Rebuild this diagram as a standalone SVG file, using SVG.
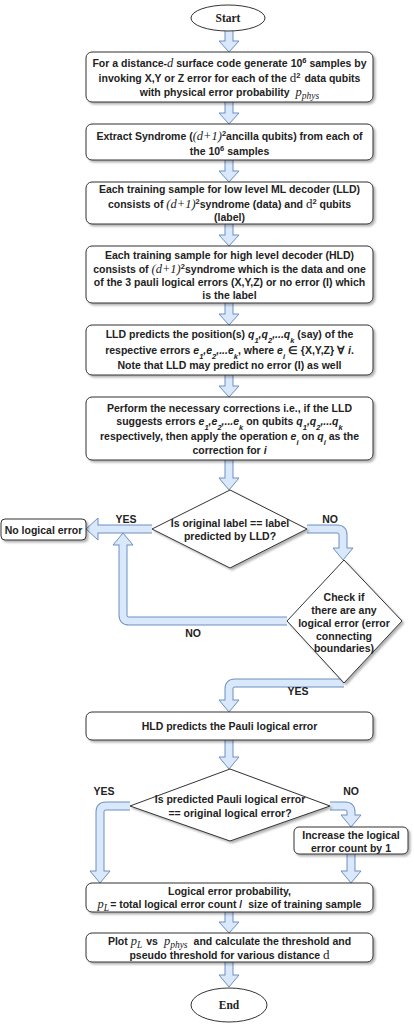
<svg xmlns="http://www.w3.org/2000/svg" width="414" height="1024" viewBox="0 0 414 1024">
<defs>
<filter id="sh" x="-10%" y="-10%" width="125%" height="140%">
<feDropShadow dx="2" dy="2" stdDeviation="1" flood-color="#000" flood-opacity="0.3"/>
</filter>
</defs>
<style>
.box{fill:#fff;stroke:#333;stroke-width:1;filter:url(#sh)}
.t{font-family:"Liberation Sans",Arial,sans-serif;font-weight:bold;font-size:10.5px;text-anchor:middle;fill:#222}
.lb{font-family:"Liberation Sans",Arial,sans-serif;font-weight:bold;font-size:10.5px;text-anchor:middle;fill:#222}
.se{font-family:"Liberation Serif","Times New Roman",serif;font-weight:bold;font-size:11.5px;text-anchor:middle;fill:#222}
.m{font-family:"Liberation Serif","Times New Roman",serif;font-style:italic;font-weight:normal;font-size:12.5px}
.mr{font-family:"Liberation Serif","Times New Roman",serif;font-weight:normal;font-size:13px}
.i{font-style:italic}
.sup{font-size:7.5px;baseline-shift:super}
.sub{font-size:7.5px;baseline-shift:sub}
.ms{font-family:"Liberation Serif","Times New Roman",serif;font-style:italic;font-weight:normal;font-size:9.5px;baseline-shift:-3px}
.so{fill:none;stroke:#6c8ebf;stroke-width:9;stroke-linejoin:round}
.si{fill:none;stroke:#dae8fc;stroke-width:7;stroke-linejoin:round}
.hd{fill:#dae8fc;stroke:#6c8ebf;stroke-width:1;stroke-linejoin:miter}
</style>
<g id="connectors">
<path class="so" d="M229,30V41"/><polygon class="hd" points="219,41 239,41 229,52"/><path class="si" d="M229,30V42"/>
<path class="so" d="M229,102V113"/><polygon class="hd" points="219,113 239,113 229,124"/><path class="si" d="M229,102V114"/>
<path class="so" d="M229,160V171"/><polygon class="hd" points="219,171 239,171 229,182"/><path class="si" d="M229,160V172"/>
<path class="so" d="M229,224V235"/><polygon class="hd" points="219,235 239,235 229,246"/><path class="si" d="M229,224V236"/>
<path class="so" d="M229,303V314"/><polygon class="hd" points="219,314 239,314 229,325"/><path class="si" d="M229,303V315"/>
<path class="so" d="M229,375V386"/><polygon class="hd" points="219,386 239,386 229,397"/><path class="si" d="M229,375V387"/>
<path class="so" d="M229,460V478"/><polygon class="hd" points="219,478 239,478 229,490"/><path class="si" d="M229,460V479"/>
<path class="so" d="M152,529H98"/><polygon class="hd" points="98,518 98,540 86,529"/><path class="si" d="M152,529H97"/>
<path class="so" d="M307,529H337Q343,529 343,535V548"/><polygon class="hd" points="333,548 353,548 343,560"/><path class="si" d="M307,529H337Q343,529 343,535V549"/>
<path class="so" d="M287,621H129Q123,621 123,615V545"/><polygon class="hd" points="113,545 133,545 123,533"/><path class="si" d="M287,621H129Q123,621 123,615V544"/>
<path class="so" d="M344,683H235Q229,683 229,689V700"/><polygon class="hd" points="219,700 239,700 229,712"/><path class="si" d="M344,683H235Q229,683 229,689V701"/>
<path class="so" d="M229,740V757"/><polygon class="hd" points="219,757 239,757 229,769"/><path class="si" d="M229,740V758"/>
<path class="so" d="M130,806H106Q100,806 100,812V871"/><polygon class="hd" points="90,871 110,871 100,883"/><path class="si" d="M130,806H106Q100,806 100,812V872"/>
<path class="so" d="M330,806H345Q351,806 351,812V815"/><polygon class="hd" points="341,815 361,815 351,827"/><path class="si" d="M330,806H345Q351,806 351,812V816"/>
<path class="so" d="M351,854V871"/><polygon class="hd" points="341,871 361,871 351,883"/><path class="si" d="M351,854V872"/>
<path class="so" d="M229,912V922"/><polygon class="hd" points="219,922 239,922 229,933"/><path class="si" d="M229,912V923"/>
<path class="so" d="M229,962V975"/><polygon class="hd" points="219,975 239,975 229,987"/><path class="si" d="M229,962V976"/>
<text class="lb" x="126" y="523">YES</text>
<text class="lb" x="330" y="523">NO</text>
<text class="lb" x="193" y="637">NO</text>
<text class="lb" x="298" y="695">YES</text>
<text class="lb" x="104" y="795">YES</text>
<text class="lb" x="351" y="795">NO</text>
</g>
<g id="start">
<ellipse cx="228" cy="18" rx="37" ry="13" fill="#fff" stroke="#333"/>
<text class="se" x="228" y="22">Start</text>
</g>
<g id="generate">
<rect class="box" x="86" y="52" width="287" height="50" rx="6"/>
<text class="t" x="229.5" y="67">For a distance-<tspan class="m">d</tspan> surface code generate 10<tspan class="sup">6</tspan> samples by</text>
<text class="t" x="229.5" y="82">invoking X,Y or Z error for each of the <tspan class="mr">d</tspan><tspan class="sup">2</tspan><tspan dx="4">data qubits</tspan></text>
<text class="t" x="229.5" y="96">with physical error probability <tspan class="m" dx="3">p</tspan><tspan class="ms">phys</tspan></text>
</g>
<g id="extract">
<rect class="box" x="86" y="124" width="287" height="36" rx="6"/>
<text class="t" x="229.5" y="140">Extract Syndrome (<tspan class="m">(d+1)</tspan><tspan class="sup">2</tspan>ancilla qubits) from each of</text>
<text class="t" x="229.5" y="155">the 10<tspan class="sup">6</tspan> samples</text>
</g>
<g id="lld-sample">
<rect class="box" x="86" y="182" width="287" height="42" rx="6"/>
<text class="t" x="229.5" y="193">Each training sample for low level ML decoder (LLD)</text>
<text class="t" x="229.5" y="208">consists of <tspan class="m">(d+1)</tspan><tspan class="sup">2</tspan>syndrome (data) and <tspan class="mr">d</tspan><tspan class="sup">2</tspan> qubits</text>
<text class="t" x="229.5" y="221">(label)</text>
</g>
<g id="hld-sample">
<rect class="box" x="86" y="246" width="287" height="57" rx="6"/>
<text class="t" x="229.5" y="259">Each training sample for high level decoder (HLD)</text>
<text class="t" x="229.5" y="273">consists of <tspan class="m">(d+1)</tspan><tspan class="sup">2</tspan>syndrome which is the data and one</text>
<text class="t" x="229.5" y="286">of the 3 pauli logical errors (X,Y,Z) or no error (I) which</text>
<text class="t" x="229.5" y="299">is the label</text>
</g>
<g id="lld-predicts">
<rect class="box" x="86" y="325" width="287" height="50" rx="6"/>
<text class="t" x="229.5" y="338">LLD predicts the position(s) <tspan class="i">q</tspan><tspan class="i sub">1</tspan><tspan class="i">,q</tspan><tspan class="i sub">2</tspan><tspan class="i">,...q</tspan><tspan class="i sub">k</tspan> (say) of the</text>
<text class="t" x="229.5" y="354">respective errors <tspan class="i">e</tspan><tspan class="i sub">1</tspan><tspan class="i">,e</tspan><tspan class="i sub">2</tspan><tspan class="i">,...e</tspan><tspan class="i sub">k</tspan>, where <tspan class="i">e</tspan><tspan class="i sub">i</tspan> ∈ {X,Y,Z} ∀ <tspan class="i">i</tspan>.</text>
<text class="t" x="229.5" y="369">Note that LLD may predict no error (I) as well</text>
</g>
<g id="corrections">
<rect class="box" x="86" y="397" width="287" height="63" rx="6"/>
<text class="t" x="229.5" y="412">Perform the necessary corrections i.e., if the LLD</text>
<text class="t" x="229.5" y="425">suggests errors <tspan class="i">e</tspan><tspan class="i sub">1</tspan><tspan class="i">,e</tspan><tspan class="i sub">2</tspan><tspan class="i">,...e</tspan><tspan class="i sub">k</tspan> on qubits <tspan class="i">q</tspan><tspan class="i sub">1</tspan><tspan class="i">,q</tspan><tspan class="i sub">2</tspan><tspan class="i">,...q</tspan><tspan class="i sub">k</tspan></text>
<text class="t" x="229.5" y="440">respectively, then apply the operation <tspan class="i">e</tspan><tspan class="i sub">i</tspan> on <tspan class="i">q</tspan><tspan class="i sub">i</tspan> as the</text>
<text class="t" x="229.5" y="454">correction for <tspan class="i">i</tspan></text>
</g>
<g id="decision-label">
<polygon class="box" points="230,490 307,529 230,568 152,529"/>
<text class="t" x="230" y="527">Is original label == label</text>
<text class="t" x="230" y="540">predicted by LLD?</text>
</g>
<g id="no-logical-error">
<rect class="box" x="1" y="519" width="85" height="21" rx="4"/>
<text class="t" x="43.5" y="534">No logical error</text>
</g>
<g id="decision-check">
<polygon class="box" points="344,560 402,621 344,683 287,621"/>
<text class="t" x="344" y="601">Check if</text>
<text class="t" x="344" y="614">there are any</text>
<text class="t" x="344" y="627">logical error (error</text>
<text class="t" x="344" y="640">connecting</text>
<text class="t" x="344" y="652">boundaries)</text>
</g>
<g id="hld-predicts">
<rect class="box" x="86" y="712" width="287" height="28" rx="6"/>
<text class="t" x="229.5" y="730">HLD predicts the Pauli logical error</text>
</g>
<g id="decision-pauli">
<polygon class="box" points="230,769 330,806 230,841 130,806"/>
<text class="t" x="230" y="803">Is predicted Pauli logical error</text>
<text class="t" x="230" y="817">== original logical error?</text>
</g>
<g id="increase">
<rect class="box" x="294" y="827" width="114" height="27" rx="5"/>
<text class="t" x="351" y="839">Increase the logical</text>
<text class="t" x="351" y="852">error count by 1</text>
</g>
<g id="probability">
<rect class="box" x="86" y="883" width="287" height="29" rx="6"/>
<text class="t" x="229.5" y="895">Logical error probability,</text>
<text class="t" x="229.5" y="908"><tspan class="m">p</tspan><tspan class="ms">L</tspan><tspan dx="1">= total logical error count / </tspan><tspan dx="3">size of training sample</tspan></text>
</g>
<g id="plot">
<rect class="box" x="86" y="933" width="287" height="29" rx="6"/>
<text class="t" x="229.5" y="945">Plot <tspan class="m">p</tspan><tspan class="ms">L</tspan><tspan dx="4">vs</tspan><tspan class="m" dx="6">p</tspan><tspan class="ms">phys</tspan><tspan dx="6">and calculate the threshold and</tspan></text>
<text class="t" x="229.5" y="959">pseudo threshold for various distance <tspan class="mr">d</tspan></text>
</g>
<g id="end">
<ellipse cx="229" cy="1005" rx="38" ry="17" fill="#fff" stroke="#333"/>
<text class="se" x="229" y="1009">End</text>
</g>
</svg>
